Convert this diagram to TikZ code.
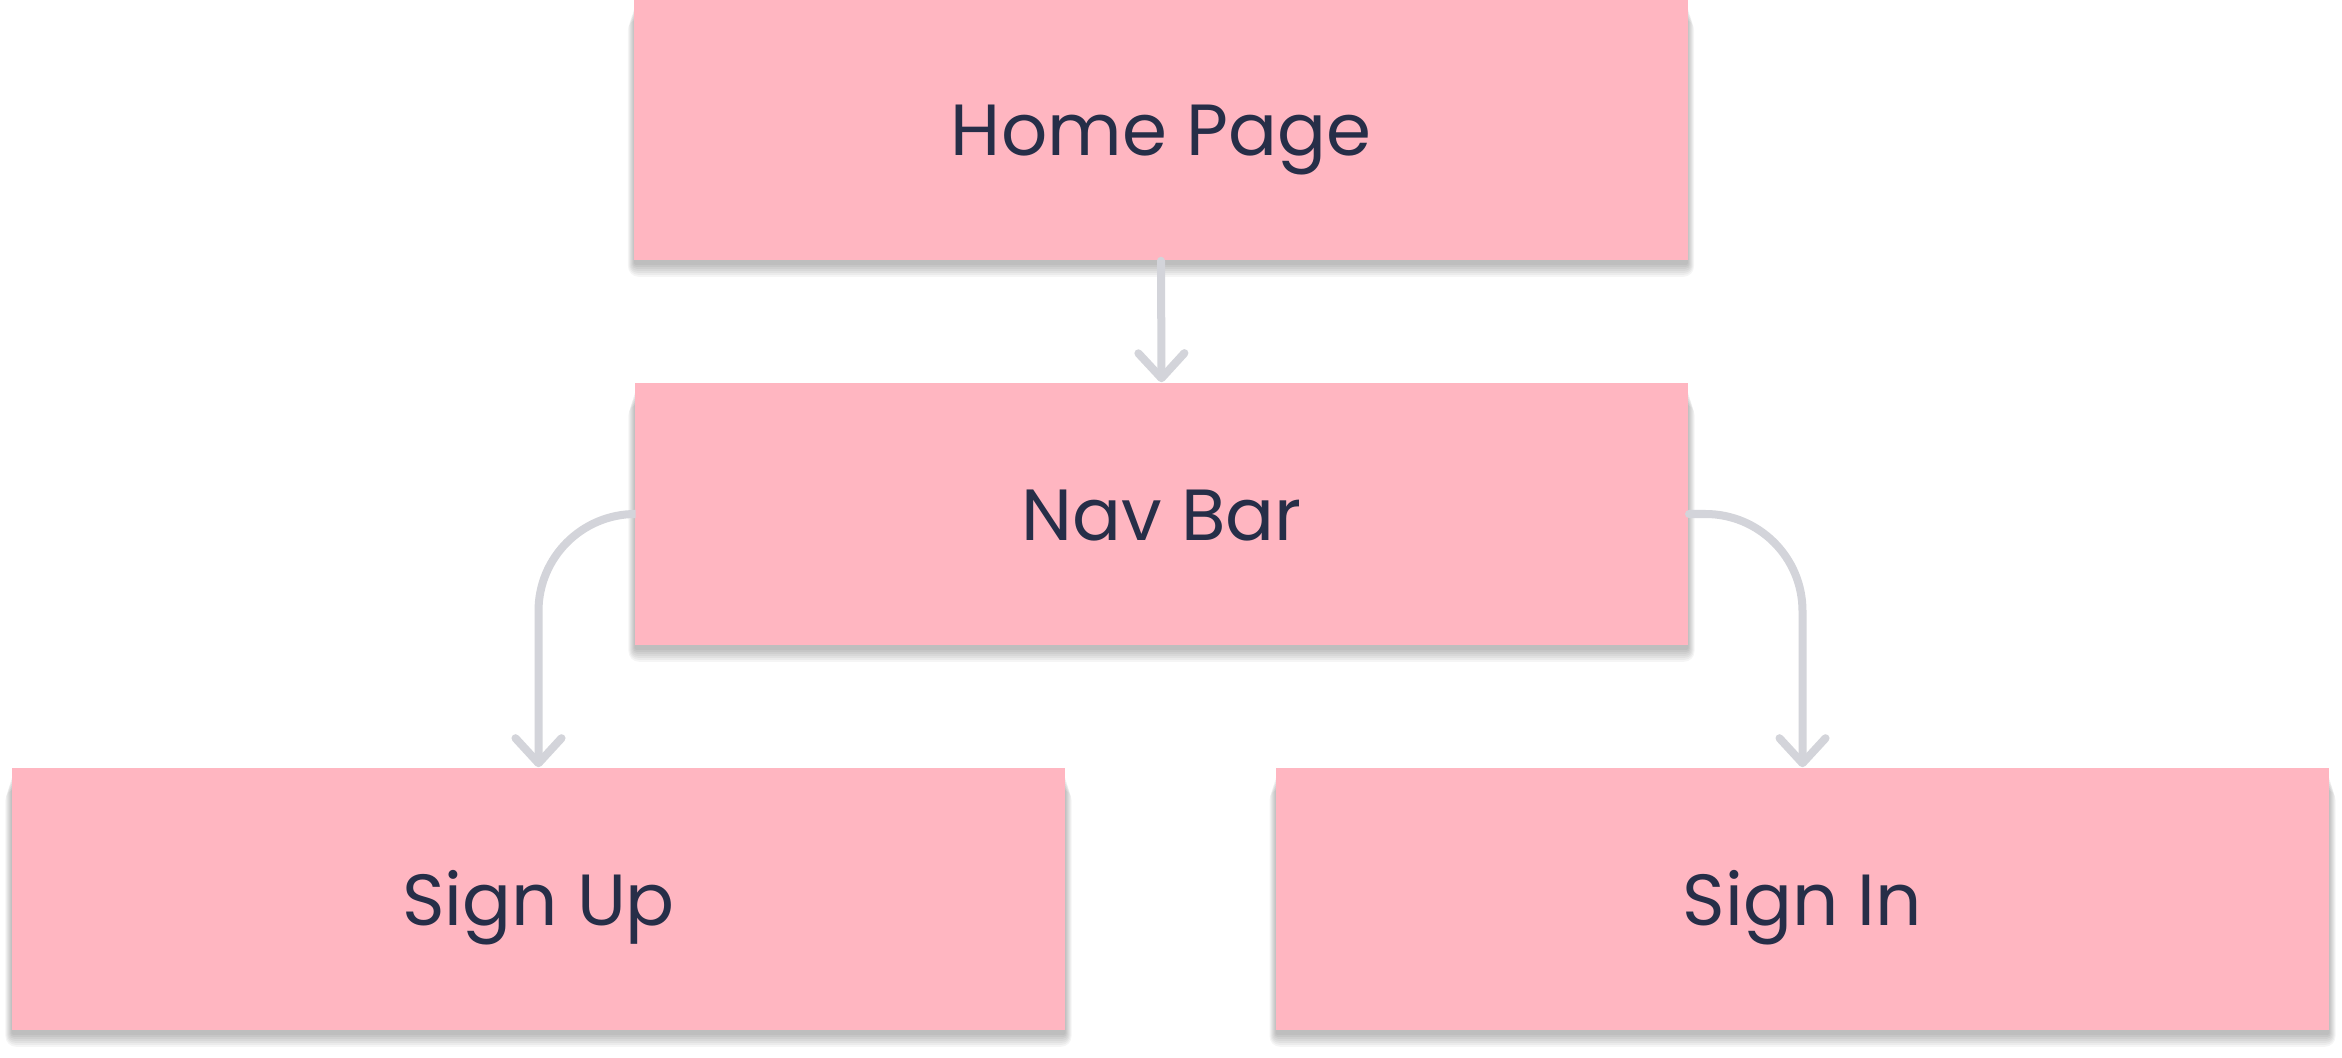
\documentclass[tikz,border=0pt]{standalone}
\usepackage{fontspec}
\setmainfont{Poppins}
\usetikzlibrary{arrows.meta,calc,backgrounds}
\definecolor{boxpink}{HTML}{FFB6C1}
\definecolor{txtnavy}{HTML}{262E48}
\definecolor{lineg}{HTML}{D3D4DA}
\tikzset{
  pagebox/.style={rectangle, fill=boxpink, inner sep=0pt,
    minimum width=10.53cm, minimum height=2.62cm,
    text=txtnavy, font=\fontsize{20.6pt}{25pt}\selectfont,
    text height=0.52cm, text depth=0pt},
  shadowlayer/.style={fill=black, fill opacity=0.04, draw=none},
  conn/.style={draw=lineg, line width=0.08cm, line cap=round,
    -{Straight Barb[length=0.25cm, width=0.46cm, round, line width=0.08cm]}}
}
\begin{document}
\begin{tikzpicture}[x=0.01cm, y=-0.01cm]
\useasboundingbox (0,0) rectangle (2342,1058);
\node[pagebox] (home) at (1161,129) {Home Page};
\node[pagebox] (nav) at (1161.5,514) {Nav Bar};
\node[pagebox] (signup) at (538.5,899) {Sign Up};
\node[pagebox] (signin) at (1802.5,899) {Sign In};
\begin{scope}[on background layer]
  \fill[white] (0,0) rectangle (2342,1058);
  \foreach \n in {home,nav,signup,signin}{
    \foreach \k in {1,...,7}{
      \fill[shadowlayer, rounded corners=\k*0.015cm]
        ($(\n.north west)+(-\k*1.0+1.5, 8+\k*2)$) rectangle ($(\n.south east)+(\k*1.0-1.5, 2+\k*2)$);
    }
  }
\end{scope}
\draw[conn] (home.south) -- (nav.north);
\draw[conn, rounded corners=0.97cm] (nav.west) -| (signup.north);
\draw[conn, rounded corners=0.97cm] (nav.east) -| (signin.north);
\end{tikzpicture}
\end{document}
